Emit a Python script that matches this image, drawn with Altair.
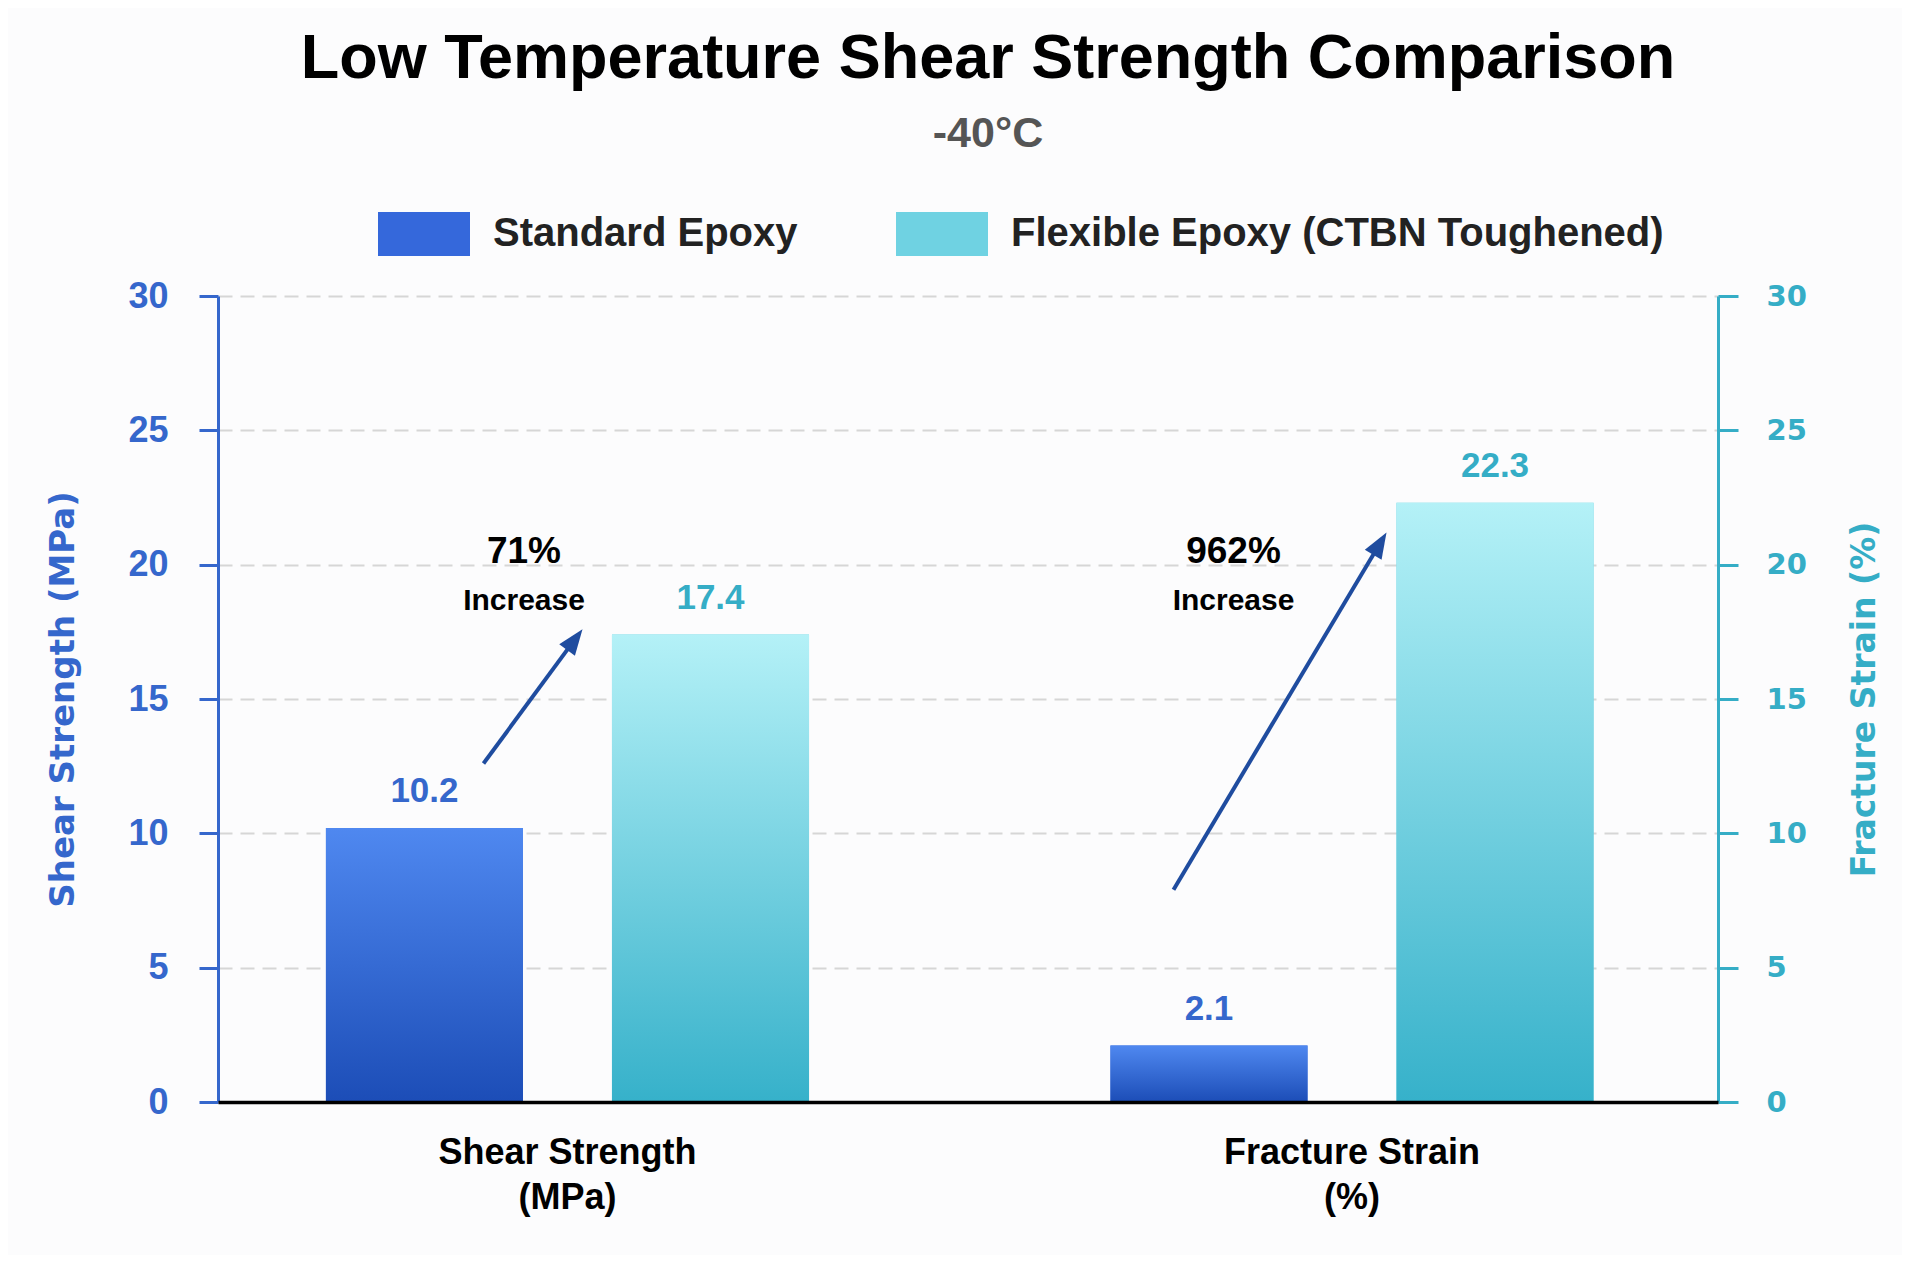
import math
import altair as alt
import pandas as pd

# ---------------- data ----------------
categories = ["Shear Strength (MPa)", "Fracture Strain (%)"]
series = ["Standard Epoxy", "Flexible Epoxy (CTBN Toughened)"]
standard_values = [10.2, 2.1]
flexible_values = [17.4, 22.3]

increase_labels = ["71%", "962%"]
increase_word = ["Increase", "Increase"]
increase_x = [0.204, 0.677]          # position along plot width (0..1)
increase_pct_y = [20.47, 20.47]
increase_word_y = [18.65, 18.65]

arrow_x0 = [0.177, 0.637]
arrow_y0 = [12.6, 7.9]
arrow_x1 = [0.243, 0.779]
arrow_y1 = [17.6, 21.2]

# ---------------- styling ----------------
W, H, YMAX = 1500, 806, 30
BLUE = "#3567cc"
TEAL = "#35adc6"
ARROW = "#1f4c9f"
SANS = "Liberation Sans"
WIDE = "DejaVu Sans"

rows = []
for i, c in enumerate(categories):
    rows.append({"category": c, "series": series[0], "value": standard_values[i]})
    rows.append({"category": c, "series": series[1], "value": flexible_values[i]})
bars_df = pd.DataFrame(rows)

ann_df = pd.DataFrame({"pct": increase_labels, "word": increase_word, "x": increase_x,
                       "ypct": increase_pct_y, "yword": increase_word_y})

arr_rows = []
for x0, y0, x1, y1 in zip(arrow_x0, arrow_y0, arrow_x1, arrow_y1):
    dxp = (x1 - x0) * W
    dyp = (y1 - y0) / YMAX * H
    L = math.hypot(dxp, dyp)
    ang = math.degrees(math.atan2(dxp, dyp))
    short = 14
    xe = x1 - dxp / L * short / W
    ye = y1 - dyp / L * short * YMAX / H
    arr_rows.append({"x0": x0, "y0": y0, "xe": xe, "ye": ye, "x1": x1, "y1": y1, "angle": ang})
arr_df = pd.DataFrame(arr_rows)

label_expr = "split(replace(datum.label, ' (', '\\n('), '\\n')"

x_band = alt.X(
    "category:N", sort=categories, title=None,
    scale=alt.Scale(domain=categories, paddingInner=0.2, paddingOuter=0.056, align=0.406),
    axis=alt.Axis(labelExpr=label_expr, labelAngle=0, labelFont=SANS, labelFontSize=36,
                  labelFontWeight="bold", labelColor="#000000", labelLineHeight=45,
                  labelPadding=33, labelLimit=700, ticks=False, tickSize=0,
                  domainColor="#000000", domainWidth=3.5, zindex=1, labelBaseline="top"),
)
x_off = alt.XOffset("series:N", sort=series,
                    scale=alt.Scale(domain=series, paddingInner=0.311, paddingOuter=0.2526))

left_axis = alt.Axis(
    values=[0, 5, 10, 15, 20, 25, 30], orient="left",
    labelFont=SANS, labelFontSize=36, labelFontWeight="bold", labelColor=BLUE, labelPadding=31,
    tickSize=19, tickWidth=3, tickColor=BLUE, domainColor=BLUE, domainWidth=3,
    grid=True, gridDash=[14, 8], gridColor="#d6d6d6", gridWidth=2,
    titleFont=WIDE, titleFontSize=34, titleFontWeight="bold", titleColor=BLUE, titlePadding=47,
)
y_main = alt.Y("value:Q", title="Shear Strength (MPa)",
               scale=alt.Scale(domain=[0, YMAX], nice=False, zero=True), axis=left_axis)

base = alt.Chart(bars_df)

legend_bars = base.mark_bar().encode(
    x=x_band, xOffset=x_off, y=y_main,
    color=alt.Color("series:N", sort=series,
                    scale=alt.Scale(domain=series, range=["#3568db", "#6fd2e2"]),
                    legend=alt.Legend(title=None, orient="none", direction="horizontal",
                                      legendX=160, legendY=-108,
                                      symbolType="M-1,-0.478H1V0.478H-1Z", symbolSize=8464,
                                      symbolStrokeWidth=0, symbolOpacity=1,
                                      labelFont=SANS, labelFontSize=40, labelFontWeight="bold",
                                      labelColor="#222222", labelOffset=23, columnPadding=98,
                                      labelLimit=900, padding=0)),
)


def grad(top, bottom):
    return alt.Gradient(gradient="linear",
                        stops=[alt.GradientStop(color=top, offset=0),
                               alt.GradientStop(color=bottom, offset=1)],
                        x1=0, x2=0, y1=0, y2=1)


std_bars = base.transform_filter(alt.datum.series == series[0]).mark_bar(
    fill=grad("#4f88f0", "#1c4db7"), strokeWidth=0
).encode(x=x_band, xOffset=x_off, y=y_main)

flex_bars = base.transform_filter(alt.datum.series == series[1]).mark_bar(
    fill=grad("#b4f1f7", "#36b1ca"), strokeWidth=0
).encode(x=x_band, xOffset=x_off, y=y_main)

value_text = base.mark_text(baseline="bottom", dy=-19, font=SANS, fontSize=35,
                            fontWeight="bold").encode(
    x=x_band, xOffset=x_off, y=y_main,
    text=alt.Text("value:Q", format=".1f"),
    color=alt.condition(alt.datum.series == series[0], alt.value(BLUE), alt.value(TEAL)),
)

main = alt.layer(legend_bars, std_bars, flex_bars, value_text)

# ---------------- annotation layer (right axis) ----------------
right_axis = alt.Axis(
    values=[0, 5, 10, 15, 20, 25, 30], orient="right",
    labelFont=WIDE, labelFontSize=29, labelFontWeight="bold", labelColor=TEAL, labelPadding=28,
    tickSize=20, tickWidth=3, tickColor=TEAL, domainColor=TEAL, domainWidth=3, grid=False,
    titleFont=WIDE, titleFontSize=33, titleFontWeight="bold", titleColor=TEAL,
    titleAngle=270, titleBaseline="top", titlePadding=42,
)
yscale_r = alt.Scale(domain=[0, YMAX], nice=False, zero=True)
xscale_f = alt.Scale(domain=[0, 1], nice=False, zero=False)


def xf(field):
    return alt.X(f"{field}:Q", scale=xscale_f, axis=None)


def yr(field):
    return alt.Y(f"{field}:Q", scale=yscale_r, axis=right_axis, title="Fracture Strain (%)")


pct_text = alt.Chart(ann_df).mark_text(font=SANS, fontSize=37, fontWeight="bold",
                                       color="#000000", baseline="middle").encode(
    x=xf("x"), y=yr("ypct"), text="pct:N")
word_text = alt.Chart(ann_df).mark_text(font=SANS, fontSize=30, fontWeight="bold",
                                        color="#000000", baseline="middle").encode(
    x=xf("x"), y=yr("yword"), text="word:N")
arrow_line = alt.Chart(arr_df).mark_rule(color=ARROW, strokeWidth=4).encode(
    x=xf("x0"), y=yr("y0"), x2="xe:Q", y2="ye:Q")
arrow_head = alt.Chart(arr_df).mark_point(
    shape="M0,0L-0.75,2L0.75,2Z", size=676, filled=True, color=ARROW, opacity=1, strokeWidth=0
).encode(x=xf("x1"), y=yr("y1"), angle=alt.Angle("angle:Q", scale=None))

ann = alt.layer(pct_text, word_text, arrow_line, arrow_head)

chart = alt.layer(main, ann).resolve_scale(x="independent", y="independent").properties(
    width=W, height=H,
    background="#fcfcfd",
    padding={"left": 38, "top": 20, "right": 20, "bottom": 40},
    title=alt.TitleParams(
        text="Low Temperature Shear Strength Comparison",
        subtitle="-40°C",
        font=SANS, fontSize=63, fontWeight="bold", color="#000000",
        subtitleFont=SANS, subtitleFontSize=43, subtitleFontWeight="bold", subtitleColor="#555555",
        subtitlePadding=22, anchor="middle", frame="group", dx=20, offset=32,
    ),
).configure_view(strokeWidth=0)

chart.save("out.html", embed_options={"renderer": "svg", "actions": False})
